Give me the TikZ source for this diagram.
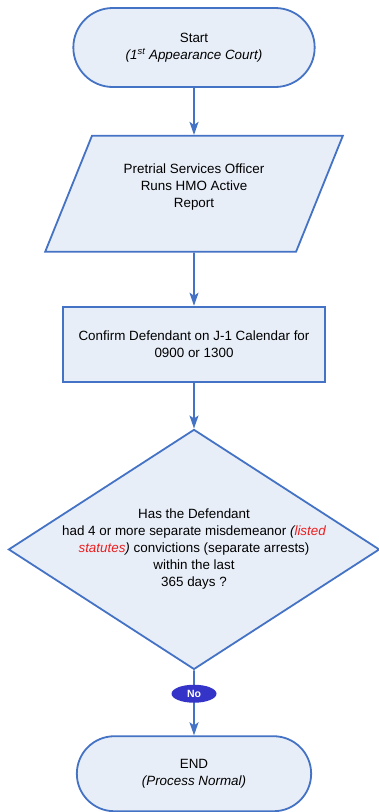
\documentclass[tikz,border=0pt]{standalone}
\usepackage{fontspec}
\setmainfont{Liberation Sans}
\usepackage{tikz}
\usetikzlibrary{positioning, arrows.meta, shapes.geometric, shapes.misc}
\definecolor{flowline}{RGB}{68,114,196}
\definecolor{flowfill}{RGB}{232,238,248}
\definecolor{badgeblue}{RGB}{52,52,200}
\definecolor{notered}{RGB}{235,30,30}
\tikzset{
    flowbase/.style={draw=flowline, fill=flowfill, line width=1.8pt, align=center,
        font=\fontsize{13.4}{17}\selectfont},
    terminal/.style={flowbase, rounded rectangle},
    iobox/.style={flowbase, trapezium, trapezium left angle=63.4, trapezium right angle=116.6,
        trapezium stretches=true, minimum width=298pt, minimum height=116pt},
    procbox/.style={flowbase, rectangle, minimum width=262pt, minimum height=75pt},
    decision/.style={flowbase, diamond, shape aspect=1.55, inner sep=-8pt,
        minimum width=371pt, minimum height=240pt},
    badge/.style={ellipse, fill=badgeblue, text=white, inner sep=0pt,
        minimum width=45pt, minimum height=18pt, font=\fontsize{10.5}{12}\selectfont\bfseries},
    flowarrow/.style={-{Stealth[length=13pt,width=9pt,inset=3pt]}, draw=flowline, line width=1.8pt}
}
\begin{document}
\begin{tikzpicture}
    \useasboundingbox (0,0) rectangle (379pt,-812pt);
    \node[terminal, minimum width=248pt, minimum height=79pt] (start) at (194pt,-47.5pt)
        {Start\\\textit{(1\textsuperscript{st} Appearance Court)}};
    \node[iobox, below=47pt of start] (report)
        {Pretrial Services Officer\\Runs HMO Active\\Report\\\mbox{}};
    \node[procbox, below=53pt of report] (confirm)
        {Confirm Defendant on J-1 Calendar for\\0900 or 1300};
    \node[decision, below=46pt of confirm] (check)
        {Has the Defendant\\had 4 or more separate misdemeanor \textit{(\textcolor{notered}{listed}}\\
         \textit{\textcolor{notered}{statutes})} convictions (separate arrests)\\within the last\\365 days ?};
    \node[terminal, minimum width=241pt, minimum height=75pt, below=65pt of check] (finish)
        {END\\\textit{(Process Normal)}};
    \draw[flowarrow] (start) -- (report);
    \draw[flowarrow] (report) -- (confirm);
    \draw[flowarrow] (confirm) -- (check);
    \draw[flowarrow] (check) -- node[badge, pos=0.36] {No} (finish);
\end{tikzpicture}
\end{document}
